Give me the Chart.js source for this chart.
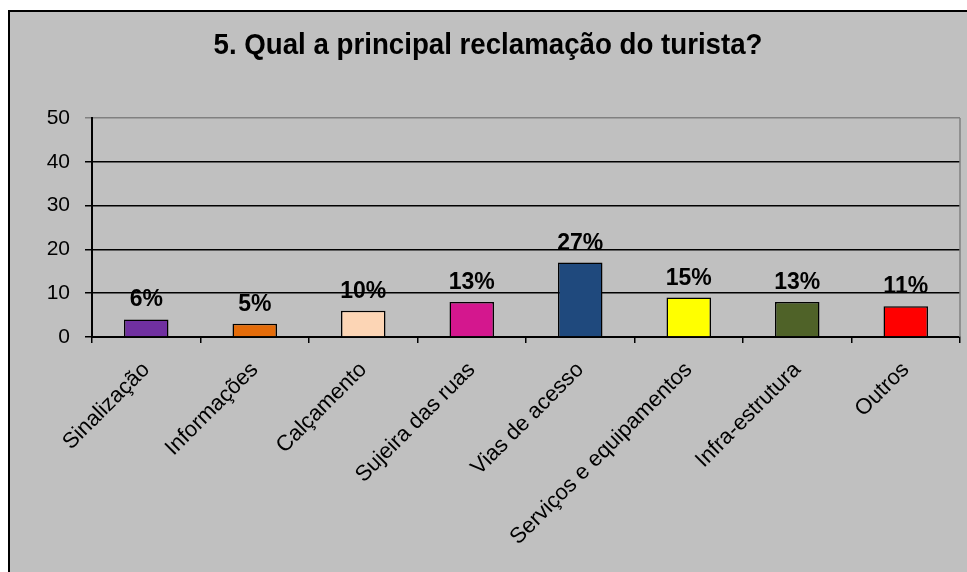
<!DOCTYPE html>
<html><head><meta charset="utf-8">
<script src="https://cdn.jsdelivr.net/npm/chart.js@4/dist/chart.umd.min.js"></script>
<style>html,body{margin:0;padding:0;background:#fff;}canvas{display:block;}</style>
</head><body>
<canvas id="c" width="967" height="572"></canvas>
<script>
const chartTitle = "5. Qual a principal reclamação do turista?";
const categories = ["Sinalização","Informações","Calçamento","Sujeira das ruas","Vias de acesso","Serviços e equipamentos","Infra-estrutura","Outros"];
const values = [4, 3, 6, 8, 17, 9, 8, 7];
const percentLabels = ["6%","5%","10%","13%","27%","15%","13%","11%"];
const barColors = ["#7030A0","#E46C0A","#FCD5B5","#D4178E","#1F497D","#FFFF00","#4F6228","#FF0000"];
const yTicks = [0,10,20,30,40,50];

const framePlugin = {
  id:'frame',
  beforeDraw(chart){
    const ctx = chart.ctx;
    ctx.save();
    ctx.fillStyle = '#fff';
    ctx.fillRect(0,0,chart.width,chart.height);
    ctx.fillStyle = '#C0C0C0';
    ctx.fillRect(9,11,chart.width-9,chart.height-11);
    ctx.strokeStyle = '#000';
    ctx.lineWidth = 2;
    ctx.beginPath();
    ctx.moveTo(9,chart.height); ctx.lineTo(9,11); ctx.lineTo(chart.width,11);
    ctx.stroke();
    ctx.fillStyle = '#000';
    ctx.font = 'bold 30px "Liberation Sans", Arial, sans-serif';
    ctx.textAlign = 'center';
    ctx.textBaseline = 'middle';
    const w = ctx.measureText(chartTitle).width;
    const sx = 549 / w;
    ctx.translate(488, 46);
    ctx.scale(sx, 1);
    ctx.fillText(chartTitle, 0, 0);
    ctx.restore();
  },
  afterDraw(chart){
    const ctx = chart.ctx, a = chart.chartArea;
    ctx.save();
    ctx.strokeStyle = '#808080';
    ctx.lineWidth = 1.5;
    ctx.beginPath();
    ctx.moveTo(a.right, a.top); ctx.lineTo(a.right, a.bottom);
    ctx.stroke();
    ctx.restore();
  },
  afterDatasetsDraw(chart){
    const ctx = chart.ctx;
    const meta = chart.getDatasetMeta(0);
    ctx.save();
    ctx.fillStyle = '#000';
    ctx.font = 'bold 23px "Liberation Sans", Arial, sans-serif';
    ctx.textAlign = 'center';
    ctx.textBaseline = 'alphabetic';
    meta.data.forEach((bar,i)=>{
      ctx.fillText(percentLabels[i], bar.x, bar.y - 13);
    });
    ctx.restore();
  }
};

new Chart(document.getElementById('c'), {
  type:'bar',
  data:{labels:categories, datasets:[{data:values, backgroundColor:barColors, borderColor:'#000', borderWidth:1.5, barPercentage:0.41, categoryPercentage:1}]},
  options:{
    responsive:false, animation:false,
    layout:{padding:{top:118,right:7,left:0,bottom:0}},
    plugins:{legend:{display:false}, title:{display:false}, tooltip:{enabled:false}},
    scales:{
      x:{
        offset:true,
        grid:{display:true, drawOnChartArea:false, drawTicks:true, tickLength:6, color:'#000', lineWidth:1.5, offset:true},
        border:{display:true, color:'#000', width:2},
        ticks:{color:'#000', font:{family:'"Liberation Sans", Arial, sans-serif', size:22}, minRotation:45, maxRotation:45, padding:14, autoSkip:false},
        afterFit(s){ s.height = 235; }
      },
      y:{
        min:0, max:50,
        afterBuildTicks(s){ s.ticks = yTicks.map(v=>({value:v})); },
        grid:{color:(c)=> c.tick && c.tick.value===50 ? '#808080' : '#000', lineWidth:1.5, tickLength:7, drawTicks:true},
        border:{display:true, color:'#000', width:2},
        ticks:{color:'#000', font:{family:'"Liberation Sans", Arial, sans-serif', size:21}, padding:15},
        afterFit(s){ s.width = 92; }
      }
    }
  },
  plugins:[framePlugin]
});
</script>
</body></html>
